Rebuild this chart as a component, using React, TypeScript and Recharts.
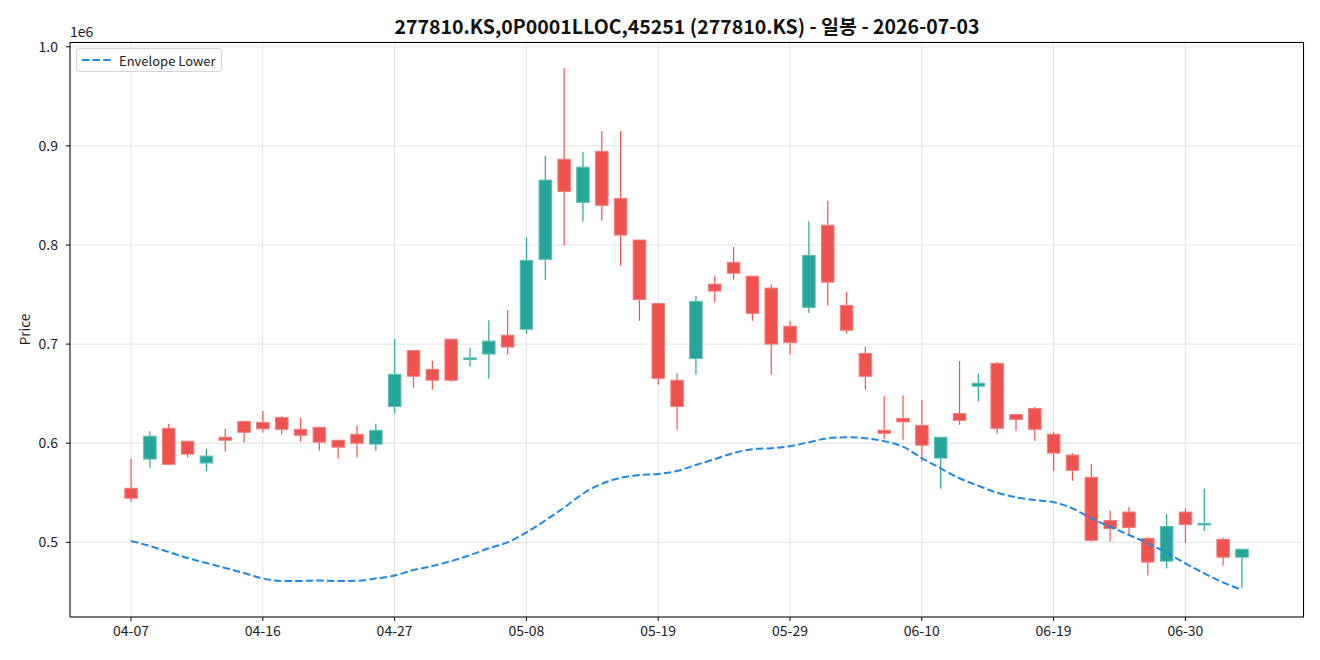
import React from 'react';
import {
    ComposedChart,
    Bar,
    Line,
    XAxis,
    YAxis,
    CartesianGrid,
    Legend,
} from 'recharts';

// Trading days (index on the x axis)
const dates = [
    '04-07', '04-08', '04-09', '04-10', '04-13', '04-14', '04-15', '04-16', '04-17', '04-20',
    '04-21', '04-22', '04-23', '04-24', '04-27', '04-28', '04-29', '04-30', '05-04', '05-06',
    '05-07', '05-08', '05-11', '05-12', '05-13', '05-14', '05-15', '05-18', '05-19', '05-20',
    '05-21', '05-22', '05-26', '05-27', '05-28', '05-29', '06-01', '06-02', '06-04', '06-05',
    '06-08', '06-09', '06-10', '06-11', '06-12', '06-15', '06-16', '06-17', '06-18', '06-19',
    '06-22', '06-23', '06-24', '06-25', '06-26', '06-29', '06-30', '07-01', '07-02', '07-03',
];

const opens = [
    554500, 584000, 615000, 602000, 580000, 606000, 622000, 621000, 626000, 614000,
    616000, 603000, 609000, 599000, 637000, 693500, 674500, 705000, 684500, 690000,
    709000, 715000, 785500, 886500, 843000, 894500, 847000, 805000, 741000, 663500,
    685500, 760500, 782500, 768500, 756500, 718000, 737000, 820000, 739000, 690500,
    613000, 625000, 618000, 585000, 630000, 657500, 680500, 629000, 635000, 609000,
    588000, 565500, 522000, 530500, 504000, 481000, 530500, 518000, 503000, 485000,
];

const highs = [
    584000, 612000, 619500, 602000, 594000, 614500, 622000, 632500, 627500, 625500,
    616000, 603000, 617500, 619500, 705000, 694000, 683000, 705000, 696000, 724000,
    734500, 808000, 890000, 978500, 894000, 915000, 915000, 805000, 741000, 670500,
    748500, 769000, 798000, 768500, 760500, 723500, 824000, 844500, 752500, 697500,
    647500, 648500, 643500, 606000, 683000, 670000, 682000, 629000, 636500, 611000,
    590000, 579000, 532000, 535500, 505000, 528500, 534500, 554000, 504500, 493000,
];

const lows = [
    541000, 575000, 578500, 585500, 572000, 591500, 600500, 610500, 608500, 601500,
    592500, 584500, 585500, 592500, 630000, 656000, 654000, 662000, 677000, 665000,
    689500, 710500, 765000, 799500, 823500, 824500, 779000, 723500, 659000, 613500,
    669000, 742000, 765000, 723500, 669000, 689500, 731500, 739000, 710500, 654000,
    604000, 603500, 581500, 554000, 618500, 642000, 609500, 612500, 602500, 572000,
    562000, 500500, 500500, 506500, 466500, 473500, 499500, 511500, 476500, 454000,
];

const closes = [
    544500, 607000, 578700, 589000, 587000, 603000, 611000, 614500, 614000, 608000,
    601000, 596000, 600000, 613000, 669500, 667500, 663500, 663500, 686000, 703000,
    697000, 784500, 865500, 854000, 878500, 840000, 810000, 745000, 665500, 637000,
    743000, 753500, 771500, 731000, 700000, 701500, 789500, 762500, 714000, 667500,
    610000, 621500, 598000, 606000, 623000, 660500, 615000, 624000, 614000, 590000,
    572500, 502000, 514000, 515000, 480000, 516000, 518000, 519000, 485000, 493000,
];

const envelopeLower = [
    501300, 496300, 490200, 484200, 479100, 474100, 469000, 463500, 461000, 461000,
    461500, 461000, 461200, 463500, 466500, 472000, 476000, 481000, 487000, 494000,
    500000, 510000, 522000, 535000, 549000, 559000, 565000, 568000, 569000, 572000,
    578000, 584000, 590000, 594000, 595000, 597000, 601000, 605000, 606000, 605000,
    602000, 596500, 585000, 574700, 564600, 557100, 550000, 545400, 542700, 540400,
    534300, 524200, 515700, 507400, 499000, 489500, 478800, 468700, 459600, 451900,
];

const xTicks = [0, 7, 14, 21, 28, 35, 42, 49, 56];
const yTicks = [500000, 600000, 700000, 800000, 900000, 1000000];

const UP = '#26a69a';
const DOWN = '#ef5350';
const ENV = '#1e88e5';
const FONT = "'Noto Sans CJK KR', 'Noto Sans', sans-serif";

const rows = dates.map((d, i) => ({
    i,
    date: d,
    open: opens[i],
    high: highs[i],
    low: lows[i],
    close: closes[i],
    env: envelopeLower[i],
}));

// Draws wick + body inside the [low, high] range bar
const Candle = (props: any) => {
    const { x, y, width, height, payload } = props;
    if (!payload) return null;
    const top = Math.min(y, y + height);
    const h = Math.abs(height);
    const span = payload.high - payload.low || 1;
    const toY = (v: number) => top + ((payload.high - v) / span) * h;
    const cx = x + width / 2;
    const up = payload.close >= payload.open;
    const color = up ? UP : DOWN;
    const edge = up ? '#5cbdb3' : '#f27d7a';
    const bTop = toY(Math.max(payload.open, payload.close));
    const bBot = toY(Math.min(payload.open, payload.close));
    const bw = 12.5;
    return (
        <g>
            <line x1={cx} x2={cx} y1={top} y2={top + h} stroke={color} strokeWidth={1.2} />
            <rect
                x={cx - bw / 2}
                y={bTop}
                width={bw}
                height={Math.max(bBot - bTop, 1.5)}
                fill={color}
                stroke={edge}
                strokeWidth={1}
            />
        </g>
    );
};

const EnvelopeLegend = () => (
    <div
        style={{
            display: 'flex',
            alignItems: 'center',
            border: '1px solid #d6d6d6',
            borderRadius: 3,
            background: 'rgba(255,255,255,0.85)',
            height: 22,
            padding: '0 5px 0 4px',
            fontFamily: FONT,
            fontSize: 13,
            color: '#1a1a1a',
        }}
    >
        <svg width={38} height={10}>
            <line x1={1} x2={30} y1={5} y2={5} stroke={ENV} strokeWidth={2} strokeDasharray="7.4 3.2" />
        </svg>
        <span>Envelope Lower</span>
    </div>
);

const PriceLabel = (props: any) => {
    const vb = props.viewBox || { x: 0, y: 42, height: 575 };
    const lx = 24;
    const ly = vb.y + vb.height / 2;
    return (
        <text
            x={lx}
            y={ly}
            transform={`rotate(-90 ${lx} ${ly})`}
            textAnchor="middle"
            dominantBaseline="central"
            fontFamily={FONT}
            fontSize={13.5}
            fill="#1a1a1a"
        >
            Price
        </text>
    );
};

export default function App() {
    return (
        <div style={{ position: 'absolute', left: 0, top: 0, width: 1320, height: 660, background: '#fff' }}>
            <div
                style={{
                    position: 'absolute',
                    left: 70,
                    width: 1234,
                    top: 11,
                    textAlign: 'center',
                    fontFamily: FONT,
                    fontWeight: 700,
                    fontSize: 19.5,
                    color: '#111',
                }}
            >
                277810.KS,0P0001LLOC,45251 (277810.KS) - 일봉 - 2026-07-03
            </div>
            <div
                style={{
                    position: 'absolute',
                    left: 70,
                    top: 21,
                    fontFamily: FONT,
                    fontSize: 14,
                    color: '#1a1a1a',
                }}
            >
                1e6
            </div>
            <ComposedChart
                width={1320}
                height={660}
                data={rows}
                margin={{ top: 42, right: 16, bottom: 0, left: 0 }}
            >
                <CartesianGrid stroke="#e3e3e3" strokeWidth={1} />
                <XAxis
                    dataKey="i"
                    type="number"
                    domain={[-3.24, 62.3]}
                    allowDataOverflow
                    ticks={xTicks}
                    tickFormatter={(v: number) => dates[v] ?? ''}
                    height={43}
                    tickSize={4}
                    tickMargin={5}
                    stroke="#000"
                    tick={{ fill: '#1a1a1a', fontSize: 14, fontFamily: FONT }}
                />
                <YAxis
                    type="number"
                    domain={[424620, 1004840]}
                    allowDataOverflow
                    ticks={yTicks}
                    tickFormatter={(v: number) => (v / 1e6).toFixed(1)}
                    width={70}
                    tickSize={4}
                    tickMargin={8}
                    stroke="#000"
                    tick={{ fill: '#1a1a1a', fontSize: 14, fontFamily: FONT }}
                    label={{ content: <PriceLabel /> }}
                />
                <Legend
                    layout="horizontal"
                    verticalAlign="middle"
                    align="center"
                    content={<EnvelopeLegend />}
                    wrapperStyle={{ position: 'absolute', left: 76, top: 48, width: 'auto', height: 'auto' }}
                />
                <Bar
                    dataKey={(d: any) => [d.low, d.high]}
                    barSize={13}
                    shape={<Candle />}
                    isAnimationActive={false}
                    legendType="none"
                />
                <Line
                    dataKey="env"
                    type="monotone"
                    stroke={ENV}
                    strokeWidth={2}
                    strokeDasharray="7.4 3.2"
                    dot={false}
                    activeDot={false}
                    isAnimationActive={false}
                />
            </ComposedChart>
            {/* top/right frame of the axes box */}
            <div
                style={{
                    position: 'absolute',
                    left: 70,
                    top: 42,
                    width: 1234,
                    height: 575,
                    borderTop: '1px solid #000',
                    borderRight: '1px solid #000',
                    boxSizing: 'border-box',
                    pointerEvents: 'none',
                }}
            />
        </div>
    );
}
